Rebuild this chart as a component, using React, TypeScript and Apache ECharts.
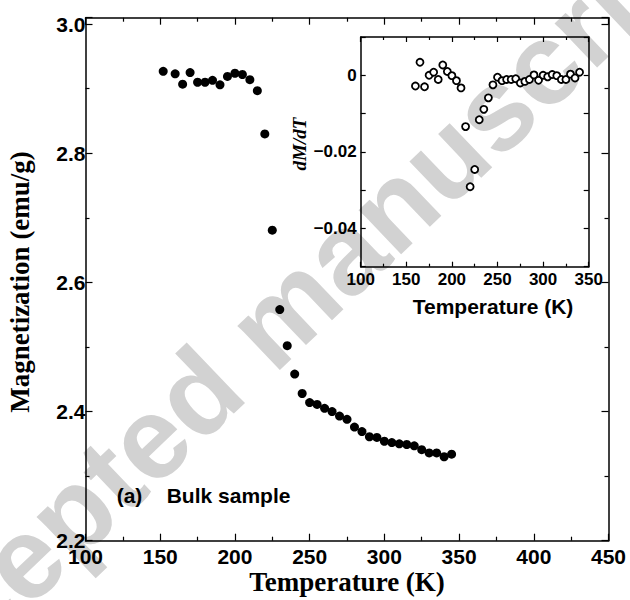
import React, { useEffect, useRef } from "react";
import * as echarts from "echarts";

// Main panel: magnetization vs temperature (bulk sample)
const mainTemp = [152, 160, 165, 170, 175, 180, 185, 190, 195, 200, 205, 210, 215, 220, 225, 230, 235, 240, 245, 250, 255, 260, 265, 270, 275, 280, 285, 290, 295, 300, 305, 310, 315, 320, 325, 330, 335, 340, 345];
const mainMag = [2.927, 2.923, 2.907, 2.925, 2.910, 2.910, 2.913, 2.906, 2.919, 2.924, 2.922, 2.914, 2.897, 2.830, 2.681, 2.558, 2.502, 2.458, 2.428, 2.414, 2.411, 2.405, 2.400, 2.393, 2.388, 2.376, 2.369, 2.361, 2.360, 2.354, 2.352, 2.350, 2.349, 2.347, 2.341, 2.336, 2.336, 2.330, 2.334];

// Inset: dM/dT vs temperature
const insetTemp = [160, 165, 170, 175, 180, 185, 190, 195, 200, 205, 210, 215, 220, 225, 230, 235, 240, 245, 250, 255, 260, 265, 270, 275, 280, 285, 290, 295, 300, 305, 310, 315, 320, 325, 330, 335, 340];
const insetDeriv = [-0.0028, 0.0034, -0.0030, 0.0000, 0.0008, -0.0011, 0.0027, 0.0010, -0.0001, -0.0014, -0.0033, -0.0134, -0.0291, -0.0246, -0.0116, -0.0089, -0.0059, -0.0025, -0.0005, -0.0014, -0.0011, -0.0011, -0.0009, -0.0020, -0.0016, -0.0011, 0.0001, -0.0013, 0.0000, -0.0004, 0.0002, -0.0001, -0.0011, -0.0011, 0.0003, -0.0007, 0.0008];

const mainXTicks = { min: 100, max: 450, interval: 50 };
const mainYTicks = { min: 2.2, max: 3.01, interval: 0.2 };
const insetXTicks = { min: 100, max: 350, interval: 50 };
const insetYTicks = { min: -0.05, max: 0.01, interval: 0.01 };

const mainXLabel = "Temperature (K)";
const mainYLabel = "Magnetization (emu/g)";
const insetXLabel = "Temperature (K)";
const insetYLabel = "dM/dT";
const panelTag = "(a)";
const panelText = "Bulk sample";
const watermark = "Accepted manuscript";

const SANS = "'Liberation Sans', Arial, sans-serif";
const SERIF = "'Liberation Serif', 'Times New Roman', serif";

function axisBase(lineW: number, tickLen: number, minorLen: number, minor: boolean) {
  return {
    type: "value" as const,
    splitLine: { show: false },
    axisLine: { show: true, onZero: false, lineStyle: { color: "#000", width: lineW } },
    axisTick: { show: true, inside: true, length: tickLen, lineStyle: { color: "#000", width: 1.2 } },
    minorTick: { show: minor, splitNumber: 2, length: minorLen, lineStyle: { color: "#000", width: 1.2 } },
    minorSplitLine: { show: false },
  };
}

export default function App() {
  const ref = useRef<HTMLDivElement>(null);
  useEffect(() => {
    document.body.style.margin = "0";
    if (!ref.current) return;
    const chart = echarts.init(ref.current, null, { renderer: "svg" });
    const mainData = mainTemp.map((t, i) => [t, mainMag[i]]);
    const insetData = insetTemp.map((t, i) => [t, insetDeriv[i]]);
    const mainLabel = { fontFamily: SANS, fontWeight: "bold", fontSize: 21, color: "#000" };
    const insetLabel = { fontFamily: SANS, fontWeight: "bold", fontSize: 17, color: "#000" };
    chart.setOption({
      animation: false,
      backgroundColor: "#fff",
      grid: [
        { left: 85.5, right: 21.5, top: 17.7, bottom: 59.3, containLabel: false },
        { left: 360.7, width: 228, top: 37, height: 229.7, containLabel: false },
      ],
      xAxis: [
        {
          ...axisBase(1.5, 7, 4, true), gridIndex: 0, position: "bottom", ...mainXTicks,
          axisLabel: { ...mainLabel, margin: 5 },
        },
        {
          ...axisBase(1.5, 7, 4, true), gridIndex: 0, position: "top", ...mainXTicks,
          axisLabel: { show: false },
        },
        {
          ...axisBase(1.5, 5, 3, true), gridIndex: 1, position: "bottom", ...insetXTicks,
          axisLabel: { ...insetLabel, margin: 4.5 },
        },
        {
          ...axisBase(1.5, 5, 3, true), gridIndex: 1, position: "top", ...insetXTicks,
          axisLabel: { show: false },
        },
      ],
      yAxis: [
        {
          ...axisBase(1.5, 7, 4, true), gridIndex: 0, position: "left", ...mainYTicks,
          axisLabel: { ...mainLabel, margin: 0, showMaxLabel: false, formatter: (v: number) => v.toFixed(1) },
        },
        {
          ...axisBase(1.5, 7, 4, true), gridIndex: 0, position: "right", ...mainYTicks,
          axisLabel: { show: false },
        },
        {
          ...axisBase(1.5, 5, 3, false), gridIndex: 1, position: "left", ...insetYTicks,
          axisLabel: {
            ...insetLabel, margin: 4,
            formatter: (v: number) => {
              const k = Math.round(v * 100);
              if (k === 0) return "0";
              if (k < 0 && k % 2 === 0) return "\u22120.0" + String(-k);
              return "";
            },
          },
        },
        {
          ...axisBase(1.5, 5, 3, false), gridIndex: 1, position: "right", ...insetYTicks,
          axisLabel: { show: false },
        },
      ],
      series: [
        {
          type: "scatter", xAxisIndex: 0, yAxisIndex: 0, data: mainData,
          symbol: "circle", symbolSize: 9, itemStyle: { color: "#000", opacity: 1 }, z: 5,
        },
        {
          type: "scatter", xAxisIndex: 2, yAxisIndex: 2, data: insetData,
          symbol: "circle", symbolSize: 7,
          itemStyle: { color: "#fff", borderColor: "#000", borderWidth: 1.8, opacity: 1 }, z: 5,
        },
      ],
      graphic: {
        elements: [
          {
            type: "text", x: 272, y: 322, rotation: 0.761, z: -10, silent: true,
            style: { text: watermark, fontFamily: SANS, fontWeight: "bold", fontSize: 116, fill: "#d2d2d2", align: "center", verticalAlign: "middle" },
          },
          {
            type: "text", x: 347, y: 582, z: 10,
            style: { text: mainXLabel, fontFamily: SERIF, fontWeight: "bold", fontSize: 27, fill: "#000", align: "center", verticalAlign: "middle" },
          },
          {
            type: "text", x: 20, y: 282, rotation: Math.PI / 2, z: 10,
            style: { text: mainYLabel, fontFamily: SERIF, fontWeight: "bold", fontSize: 27, fill: "#000", align: "center", verticalAlign: "middle" },
          },
          {
            type: "text", x: 493, y: 306, z: 10,
            style: { text: insetXLabel, fontFamily: SANS, fontWeight: "bold", fontSize: 21, fill: "#000", align: "center", verticalAlign: "middle" },
          },
          {
            type: "text", x: 299, y: 144, rotation: Math.PI / 2, z: 10,
            style: { text: insetYLabel, fontFamily: SERIF, fontWeight: "bold", fontStyle: "italic", fontSize: 19, fill: "#000", align: "center", verticalAlign: "middle" },
          },
          {
            type: "text", x: 116.7, y: 495, z: 10,
            style: { text: panelTag, fontFamily: SANS, fontWeight: "bold", fontSize: 21, fill: "#000", align: "left", verticalAlign: "middle" },
          },
          {
            type: "text", x: 166.7, y: 495, z: 10,
            style: { text: panelText, fontFamily: SANS, fontWeight: "bold", fontSize: 21, fill: "#000", align: "left", verticalAlign: "middle" },
          },
        ],
      },
    });
    return () => chart.dispose();
  }, []);
  return <div ref={ref} style={{ width: 630, height: 600 }} />;
}
